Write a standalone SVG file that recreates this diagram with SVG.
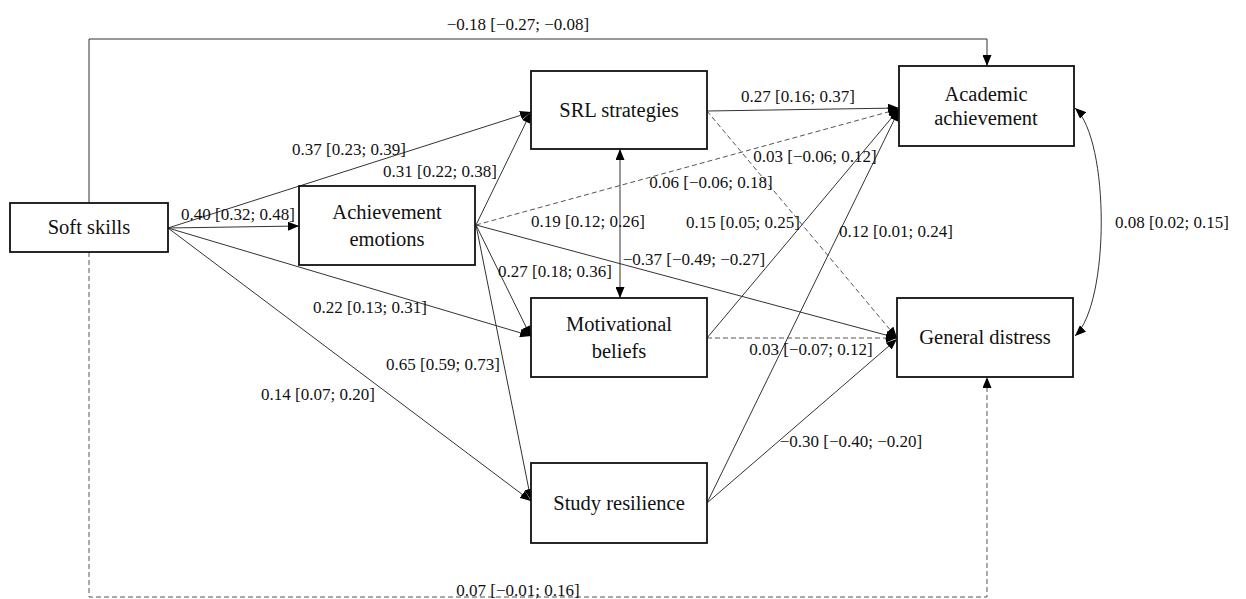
<svg xmlns="http://www.w3.org/2000/svg" width="1246" height="599" viewBox="0 0 1246 599">
<style>
.box{fill:#fff;stroke:#111;stroke-width:1.8}
.nt{font-family:"Liberation Serif","DejaVu Serif",serif;font-size:20.5px;fill:#111;text-anchor:middle}
.lb{font-family:"Liberation Serif","DejaVu Serif",serif;font-size:17px;fill:#111;text-anchor:middle}
.ln{fill:none;stroke:#333;stroke-width:1;marker-end:url(#ah)}
.ds{fill:none;stroke:#555;stroke-width:1;stroke-dasharray:5 3;marker-end:url(#ah)}
.bi{marker-start:url(#ah)}
</style>
<defs>
<marker id="ah" markerUnits="userSpaceOnUse" markerWidth="11" markerHeight="9" refX="11" refY="4.5" orient="auto-start-reverse" viewBox="0 0 11 9">
<path d="M0,0 L11,4.5 L0,9 z" fill="#000"/>
</marker>
</defs>
<rect width="1246" height="599" fill="#fff"/>
<g id="connectors">
<path class="ln" d="M89,203 V39 H987 V66"/>
<path class="ds" d="M89,252 V597 H987 V377"/>
<path class="ln" d="M168,228 L531,112"/>
<path class="ln" d="M168,228 L299,226"/>
<path class="ln" d="M168,228 L531,336"/>
<path class="ln" d="M168,228 L531,501"/>
<path class="ln" d="M476,225 L531,112"/>
<path class="ds" d="M476,225 L899,109"/>
<path class="ln" d="M476,225 L531,337"/>
<path class="ln" d="M476,225 L531,500"/>
<path class="ln" d="M476,225 L897,338"/>
<path class="ln bi" d="M620,149 V298"/>
<path class="ln" d="M707,111 L899,108"/>
<path class="ds" d="M707,111 L897,338"/>
<path class="ln" d="M707,338 L899,109"/>
<path class="ds" d="M707,338 L897,338"/>
<path class="ln" d="M707,503 L899,110"/>
<path class="ln" d="M707,503 L897,339"/>
<path class="ln bi" d="M1075,108 C1110,140 1110,303 1075,336"/>
</g>
<g id="labels">
<text class="lb" x="518" y="30">−0.18 [−0.27; −0.08]</text>
<text class="lb" x="518" y="596">0.07 [−0.01; 0.16]</text>
<text class="lb" x="349" y="155">0.37 [0.23; 0.39]</text>
<text class="lb" x="440" y="177">0.31 [0.22; 0.38]</text>
<text class="lb" x="238" y="220">0.40 [0.32; 0.48]</text>
<text class="lb" x="370" y="313">0.22 [0.13; 0.31]</text>
<text class="lb" x="318" y="400">0.14 [0.07; 0.20]</text>
<text class="lb" x="443" y="370">0.65 [0.59; 0.73]</text>
<text class="lb" x="555" y="277">0.27 [0.18; 0.36]</text>
<text class="lb" x="588" y="227">0.19 [0.12; 0.26]</text>
<text class="lb" x="711" y="188">0.06 [−0.06; 0.18]</text>
<text class="lb" x="798" y="102">0.27 [0.16; 0.37]</text>
<text class="lb" x="815" y="162">0.03 [−0.06; 0.12]</text>
<text class="lb" x="743" y="228">0.15 [0.05; 0.25]</text>
<text class="lb" x="896" y="237">0.12 [0.01; 0.24]</text>
<text class="lb" x="694" y="265">−0.37 [−0.49; −0.27]</text>
<text class="lb" x="811" y="355">0.03 [−0.07; 0.12]</text>
<text class="lb" x="851" y="447">−0.30 [−0.40; −0.20]</text>
<text class="lb" x="1172" y="228">0.08 [0.02; 0.15]</text>
</g>
<g id="soft-skills"><rect class="box" x="10" y="203" width="158" height="49"/><text class="nt" x="89" y="234">Soft skills</text></g>
<g id="achievement-emotions"><rect class="box" x="299" y="186" width="176" height="79"/><text class="nt" x="387" y="219">Achievement</text><text class="nt" x="387" y="246">emotions</text></g>
<g id="srl-strategies"><rect class="box" x="531" y="71" width="176" height="78"/><text class="nt" x="619" y="117">SRL strategies</text></g>
<g id="motivational-beliefs"><rect class="box" x="531" y="298" width="176" height="79"/><text class="nt" x="619" y="331">Motivational</text><text class="nt" x="619" y="358">beliefs</text></g>
<g id="study-resilience"><rect class="box" x="531" y="463" width="176" height="80"/><text class="nt" x="619" y="510">Study resilience</text></g>
<g id="academic-achievement"><rect class="box" x="899" y="66" width="175" height="80"/><text class="nt" x="986" y="101">Academic</text><text class="nt" x="986" y="125">achievement</text></g>
<g id="general-distress"><rect class="box" x="897" y="298" width="176" height="79"/><text class="nt" x="985" y="344">General distress</text></g>
</svg>
